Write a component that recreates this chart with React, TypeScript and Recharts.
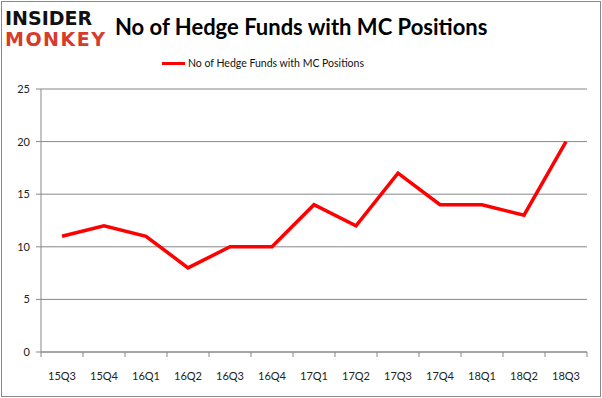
import { LineChart, Line, XAxis, YAxis, CartesianGrid } from "recharts";

const quarters = ["15Q3", "15Q4", "16Q1", "16Q2", "16Q3", "16Q4", "17Q1", "17Q2", "17Q3", "17Q4", "18Q1", "18Q2", "18Q3"];
const hedgeFunds = [11, 12, 11, 8, 10, 10, 14, 12, 17, 14, 14, 13, 20];
const yTicks = [0, 5, 10, 15, 20, 25];

const seriesName = "No of Hedge Funds with MC Positions";

const data = quarters.map((q, i) => ({ quarter: q, funds: hedgeFunds[i] }));

const tickStyle = { fontSize: 11, fill: "#222", fontFamily: "Lato, sans-serif" };
const LABEL_GAP = 20;

// category label plus the tick mark at the left edge of each band (Excel style)
function QuarterTick(props: any) {
  const { x, y, payload, index, width } = props;
  const plotW = typeof width === "number" ? width : 546;
  const half = plotW / quarters.length / 2;
  const axisY = y - LABEL_GAP;
  return (
    <g>
      <line x1={x - half} x2={x - half} y1={axisY} y2={axisY + 5} stroke="#888" />
      {index === quarters.length - 1 && (
        <line x1={x + half} x2={x + half} y1={axisY} y2={axisY + 5} stroke="#888" />
      )}
      <text x={x} y={y} dy="0.71em" textAnchor="middle" {...tickStyle}>
        {payload.value}
      </text>
    </g>
  );
}

const logoStyle = {
  position: "absolute" as const,
  left: 5,
  fontFamily: "'DejaVu Sans', sans-serif",
  fontWeight: 900,
  fontSize: 19,
  lineHeight: "19px",
};

function App() {
  return (
    <div
      style={{
        position: "absolute",
        left: 0,
        top: 0,
        width: 602,
        height: 398,
        background: "#fff",
        fontFamily: "Lato, sans-serif",
      }}
    >
      <div
        style={{
          position: "absolute",
          left: 1,
          top: 1,
          width: 598,
          height: 394,
          border: "1px solid #888",
        }}
      />
      {/* logo */}
      <div style={{ ...logoStyle, top: 9, color: "#111" }}>INSIDER</div>
      <div style={{ ...logoStyle, top: 30, letterSpacing: 1.5, color: "#d63b2b" }}>MONKEY</div>
      <div
        style={{
          position: "absolute",
          left: 115,
          top: 13,
          fontWeight: 700,
          fontSize: 22,
          lineHeight: "28px",
          color: "#000",
          whiteSpace: "nowrap",
        }}
      >
        {seriesName}
      </div>
      {/* legend */}
      <div
        style={{
          position: "absolute",
          left: 162,
          top: 55,
          display: "flex",
          alignItems: "center",
          fontSize: 10.5,
          lineHeight: "16px",
          color: "#111",
          whiteSpace: "nowrap",
        }}
      >
        <span style={{ display: "inline-block", width: 23, height: 3, background: "#ff0000", marginRight: 3 }} />
        {seriesName}
      </div>
      <div style={{ position: "absolute", left: 0, top: 0 }}>
        <LineChart width={602} height={398} data={data} margin={{ top: 89, right: 15, left: 0, bottom: 16 }}>
          <CartesianGrid vertical={false} stroke="#888" />
          <XAxis
            dataKey="quarter"
            stroke="#888"
            tick={<QuarterTick />}
            tickLine={false}
            tickSize={0}
            tickMargin={LABEL_GAP}
            padding={{ left: 21, right: 21 }}
            height={30}
            interval={0}
          />
          <YAxis
            domain={[0, 25]}
            ticks={yTicks}
            stroke="#888"
            tick={tickStyle}
            tickSize={5}
            width={41}
            tickMargin={6}
          />
          <Line
            type="linear"
            dataKey="funds"
            name={seriesName}
            stroke="#ff0000"
            strokeWidth={3.5}
            dot={false}
            isAnimationActive={false}
          />
        </LineChart>
      </div>
    </div>
  );
}

export default App;
